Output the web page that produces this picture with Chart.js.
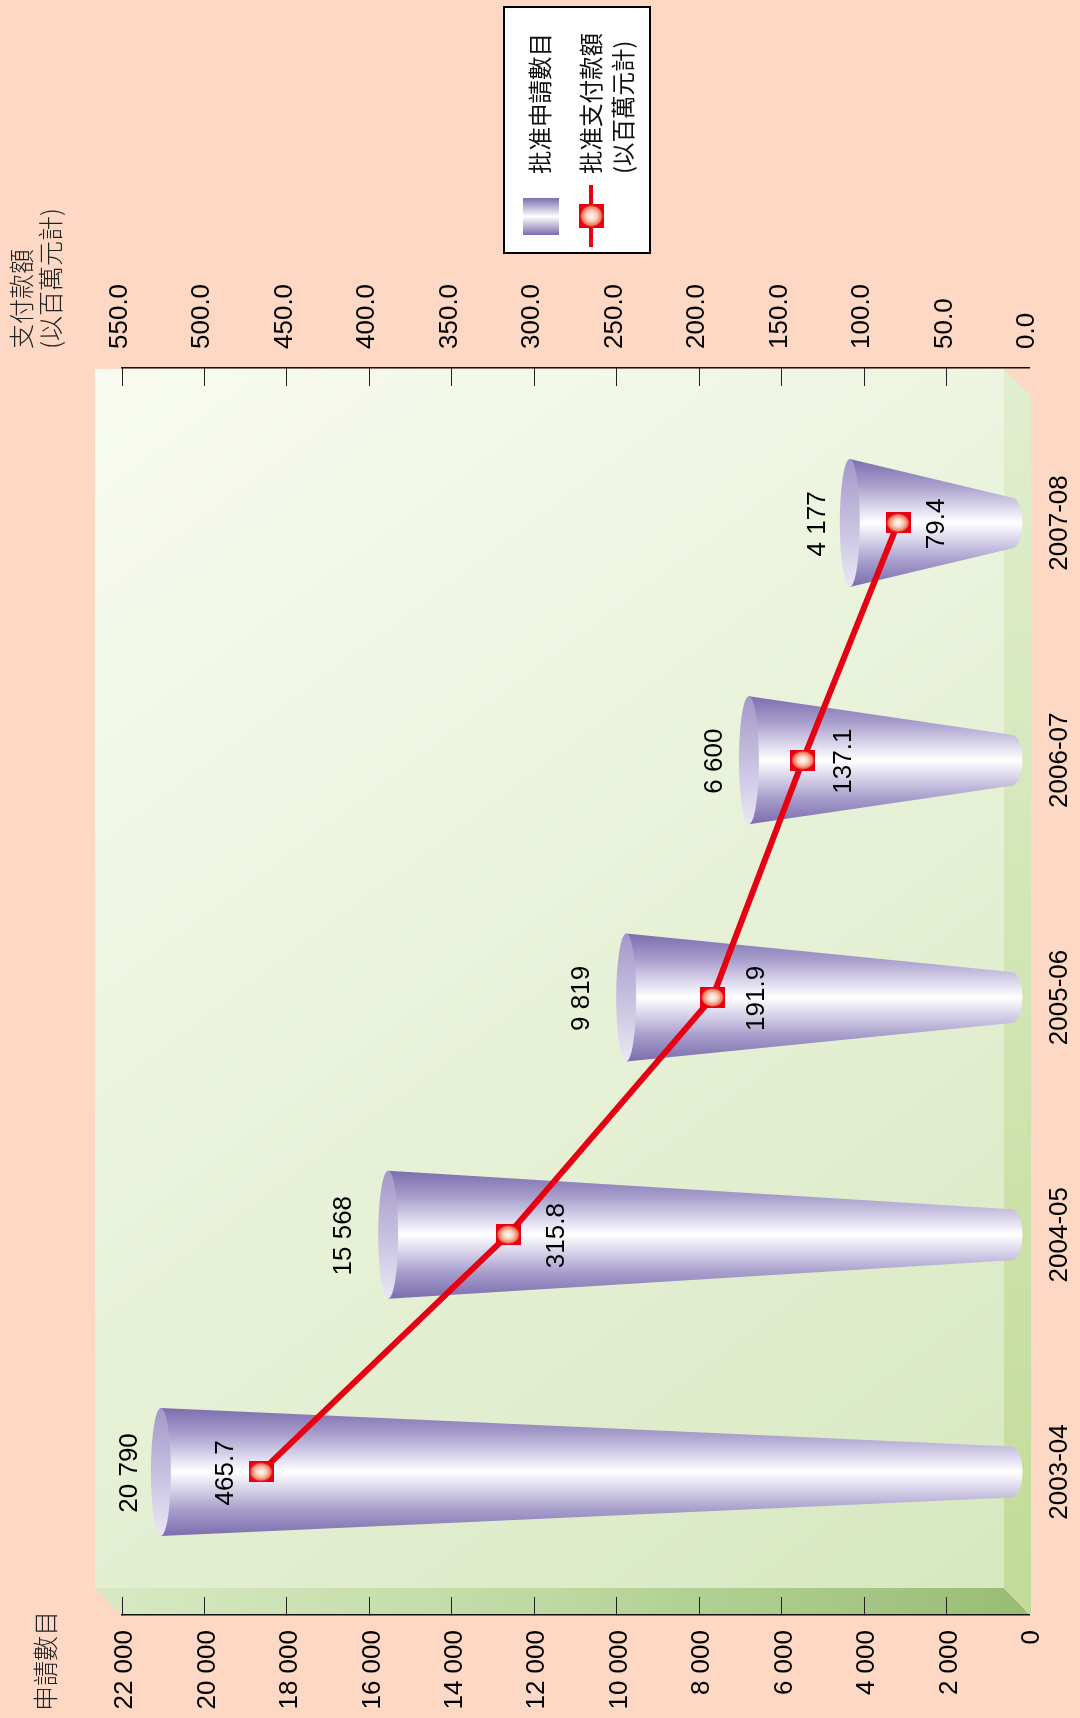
<!DOCTYPE html>
<html>
<head>
<meta charset="utf-8">
<title>批准申請數目</title>
<style>
  html, body { margin: 0; padding: 0; background: #fcd8c5; }
  canvas { display: block; }
</style>
<script src="https://cdn.jsdelivr.net/npm/chart.js@4/dist/chart.umd.min.js"></script>
</head>
<body>
<canvas id="chart" width="1080" height="1718"></canvas>
<script>
const categories = ['2003-04', '2004-05', '2005-06', '2006-07', '2007-08'];
const applications = [20790, 15568, 9819, 6600, 4177];
const payments = [465.7, 315.8, 191.9, 137.1, 79.4];

const applicationsTitle = '申請數目';
const paymentsTitle = ['支付款額', '(以百萬元計)'];
const legendApplications = '批准申請數目';
const legendPayments = ['批准支付款額', '(以百萬元計)'];

// the source picture is a column chart turned on its side, so everything reads bottom to top
const LATIN = '"Liberation Sans", Arial, sans-serif';
const CJK = '"Noto Sans CJK TC", sans-serif';
const RED = '#e60012';

// hand placement of the cones and labels in the source, px along the value axis
const coneNudge = [-11, 1, 2, -8, -7];
const paymentLabelShift = [-35.5, 49, 44.5, 40.5, 38.5];
const applicationLabelShift = [-42, -43, -42, -42, -39];

function formatThousands(v) {
  return String(v).replace(/\B(?=(\d{3})+$)/g, ' ');
}

function drawUpright(ctx, text, x, y, font, color, align) {
  ctx.save();
  ctx.translate(x, y);
  ctx.rotate(-Math.PI / 2);
  ctx.font = font;
  ctx.fillStyle = color;
  ctx.textAlign = align || 'center';
  ctx.textBaseline = 'middle';
  ctx.fillText(text, 0, 0);
  ctx.restore();
}

function coneGradient(ctx, y, half) {
  const g = ctx.createLinearGradient(0, y - half, 0, y + half);
  g.addColorStop(0, '#7b6dae');
  g.addColorStop(0.2, '#a79dcb');
  g.addColorStop(0.38, '#dcd8ed');
  g.addColorStop(0.5, '#ffffff');
  g.addColorStop(0.62, '#dcd8ed');
  g.addColorStop(0.8, '#a79dcb');
  g.addColorStop(1, '#7b6dae');
  return g;
}

function drawMarker(ctx, x, y, w, h) {
  ctx.fillStyle = RED;
  ctx.fillRect(x - w / 2, y - h / 2, w, h);
  ctx.save();
  ctx.translate(x, y);
  ctx.scale(1, (h - 2) / (w - 2));
  const r = (w - 2) / 2;
  const g = ctx.createRadialGradient(0, 0, 0, 0, 0, r);
  g.addColorStop(0, '#ffffff');
  g.addColorStop(0.45, '#fbd0bc');
  g.addColorStop(0.85, '#ee7a5c');
  g.addColorStop(1, RED);
  ctx.fillStyle = g;
  ctx.beginPath();
  ctx.arc(0, 0, r, 0, Math.PI * 2);
  ctx.fill();
  ctx.restore();
}

const markerImage = document.createElement('canvas');
markerImage.width = 25;
markerImage.height = 21;
drawMarker(markerImage.getContext('2d'), 12.5, 10.5, 25, 21);

const sceneryPlugin = {
  id: 'scenery',
  beforeDraw(chart) {
    const ctx = chart.ctx;
    const { left, right, top, bottom } = chart.chartArea;
    const depth = 27;
    const wallL = left - 27, wallR = right - 25, wallT = top + 1, wallB = bottom - 27;

    let g = ctx.createLinearGradient(wallL, wallT, wallR, wallB);
    g.addColorStop(0, '#f9fbf1');
    g.addColorStop(1, '#d7e8c0');
    ctx.fillStyle = g;
    ctx.fillRect(wallL, wallT, wallR - wallL, wallB - wallT);

    // floor along the bottom of the wall
    g = ctx.createLinearGradient(wallL, 0, right, 0);
    g.addColorStop(0, '#d8e9c3');
    g.addColorStop(0.5, '#bdd8a0');
    g.addColorStop(1, '#98bc74');
    ctx.fillStyle = g;
    ctx.beginPath();
    ctx.moveTo(wallL, wallB);
    ctx.lineTo(wallR, wallB);
    ctx.lineTo(right + 1, bottom);
    ctx.lineTo(left, bottom);
    ctx.closePath();
    ctx.fill();

    // strip on the zero side
    g = ctx.createLinearGradient(0, wallT, 0, bottom);
    g.addColorStop(0, '#e1eecf');
    g.addColorStop(1, '#c2db97');
    ctx.fillStyle = g;
    ctx.beginPath();
    ctx.moveTo(wallR, wallT);
    ctx.lineTo(right + 2, wallT + depth);
    ctx.lineTo(right + 2, bottom);
    ctx.lineTo(wallR, wallB);
    ctx.closePath();
    ctx.fill();
  },
  beforeDatasetDraw(chart, args) {
    if (chart.data.datasets[args.index].type === 'line') return;
    const ctx = chart.ctx;
    args.meta.data.forEach((bar, i) => {
      const half = bar.height / 2;
      const bigX = bar.x + coneNudge[i];
      const smallX = bar.base - 17;
      const smallHalf = 25.5;
      const rx = 10;

      ctx.fillStyle = coneGradient(ctx, bar.y, half);
      ctx.beginPath();
      ctx.moveTo(bigX, bar.y - half);
      ctx.lineTo(smallX, bar.y - smallHalf);
      ctx.ellipse(smallX, bar.y, 11, smallHalf, 0, -Math.PI / 2, Math.PI / 2);
      ctx.lineTo(bigX, bar.y + half);
      ctx.closePath();
      ctx.fill();

      const face = ctx.createLinearGradient(0, bar.y - half, 0, bar.y + half);
      face.addColorStop(0, '#a398c9');
      face.addColorStop(1, '#e9e7f5');
      ctx.fillStyle = face;
      ctx.beginPath();
      ctx.ellipse(bigX, bar.y, rx, half, 0, 0, Math.PI * 2);
      ctx.fill();
    });
    return false;
  },
  afterDatasetsDraw(chart) {
    const ctx = chart.ctx;
    const numberFont = '26px ' + LATIN;
    const x = chart.scales.x, x2 = chart.scales.x2, y = chart.scales.y;
    categories.forEach((c, i) => {
      const py = y.getPixelForValue(i);
      drawUpright(ctx, formatThousands(applications[i]),
        x.getPixelForValue(applications[i]) + applicationLabelShift[i], py + 1, numberFont, '#000');
      drawUpright(ctx, payments[i].toFixed(1),
        x2.getPixelForValue(payments[i]) + paymentLabelShift[i], py + 1, numberFont, '#000');
    });

    // axis titles
    const titleFont = '300 25px ' + CJK;
    drawUpright(ctx, applicationsTitle, 45, 1711, titleFont, '#222', 'left');
    drawUpright(ctx, paymentsTitle[0], 21, 349, titleFont, '#222', 'left');
    drawUpright(ctx, paymentsTitle[1], 50, 349, titleFont, '#222', 'left');

    // legend box
    ctx.fillStyle = '#fff';
    ctx.fillRect(503, 6, 148, 248);
    ctx.strokeStyle = '#000';
    ctx.lineWidth = 2;
    ctx.strokeRect(504, 7, 146, 246);

    const swatch = ctx.createLinearGradient(0, 198, 0, 235);
    swatch.addColorStop(0, '#7b6dae');
    swatch.addColorStop(0.5, '#ffffff');
    swatch.addColorStop(1, '#7b6dae');
    ctx.fillStyle = swatch;
    ctx.fillRect(523, 198, 36, 37);

    ctx.strokeStyle = RED;
    ctx.lineWidth = 4;
    ctx.beginPath();
    ctx.moveTo(591, 185);
    ctx.lineTo(591, 247);
    ctx.stroke();
    drawMarker(ctx, 591.5, 216, 25, 24);

    const legendFont = '400 23.5px ' + CJK;
    drawUpright(ctx, legendApplications, 540, 174, legendFont, '#111', 'left');
    drawUpright(ctx, legendPayments[0], 591, 174, legendFont, '#111', 'left');
    drawUpright(ctx, legendPayments[1], 623, 174, legendFont, '#111', 'left');
  }
};

function fitValueAxis(height) {
  return (scale) => {
    scale.height = height;
    // rotated labels would otherwise push the plot in from the right
    scale.paddingLeft = 0;
    scale.paddingRight = 0;
  };
}

new Chart(document.getElementById('chart'), {
  type: 'bar',
  plugins: [sceneryPlugin],
  data: {
    labels: categories,
    datasets: [
      {
        type: 'line',
        label: legendPayments.join(''),
        data: payments.map((v, i) => ({ x: v, y: i })),
        xAxisID: 'x2',
        yAxisID: 'y',
        order: 0,
        borderColor: RED,
        borderWidth: 6,
        tension: 0,
        pointStyle: markerImage,
        pointRadius: 12
      },
      {
        type: 'bar',
        label: legendApplications,
        data: applications.map((v, i) => ({ x: v, y: i })),
        xAxisID: 'x',
        yAxisID: 'y',
        order: 1,
        barThickness: 128,
        backgroundColor: '#a095c8'
      }
    ]
  },
  options: {
    indexAxis: 'y',
    responsive: false,
    devicePixelRatio: 1,
    animation: false,
    layout: { autoPadding: false, padding: { left: 122 } },
    plugins: { legend: { display: false }, tooltip: { enabled: false }, title: { display: false } },
    scales: {
      x: {
        position: 'bottom',
        reverse: true,
        min: 0,
        max: 22000,
        afterFit: fitValueAxis(103),
        border: { display: true, color: '#111', width: 1.5 },
        grid: {
          drawOnChartArea: false,
          tickLength: -18,
          tickColor: (c) => (c.tick && c.tick.value === 0 ? 'transparent' : '#222')
        },
        ticks: {
          stepSize: 2000,
          autoSkip: false,
          minRotation: 90,
          maxRotation: 90,
          padding: 33,
          labelOffset: 3,
          color: '#000',
          font: { family: LATIN, size: 26 },
          callback: (v) => formatThousands(v)
        }
      },
      x2: {
        position: 'top',
        reverse: true,
        min: 0,
        max: 550,
        afterFit: fitValueAxis(368),
        border: { display: true, color: '#111', width: 1.5 },
        grid: {
          drawOnChartArea: false,
          tickLength: -18,
          tickColor: (c) => (c.tick && c.tick.value === 0 ? 'transparent' : '#222')
        },
        ticks: {
          stepSize: 50,
          autoSkip: false,
          minRotation: 90,
          maxRotation: 90,
          padding: 37,
          labelOffset: 29,
          color: '#000',
          font: { family: LATIN, size: 26 },
          callback: (v) => v.toFixed(1)
        }
      },
      y: {
        type: 'linear',
        position: 'right',
        offset: false,
        min: -0.603,
        max: 4.653,
        afterFit(scale) { scale.width = 51; },
        border: { display: false },
        grid: { display: false, drawTicks: false, offset: false },
        ticks: {
          stepSize: 1,
          includeBounds: false,
          autoSkip: false,
          minRotation: 90,
          maxRotation: 90,
          crossAlign: 'center',
          padding: -17,
          color: '#000',
          font: { family: LATIN, size: 26 },
          callback: (v) => categories[v] || ''
        }
      }
    }
  }
});
</script>
</body>
</html>
